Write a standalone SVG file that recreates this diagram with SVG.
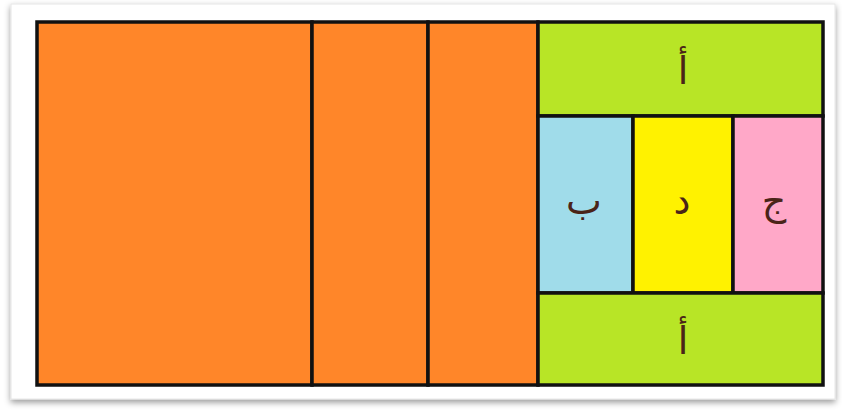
<svg xmlns="http://www.w3.org/2000/svg" width="842" height="410" viewBox="0 0 842 410">
<defs>
<filter id="sh" x="-5%" y="-5%" width="110%" height="115%">
<feDropShadow dx="0" dy="3" stdDeviation="3" flood-color="#000" flood-opacity="0.4"/>
</filter>
<style>
.cell{stroke:#111;stroke-width:3.5}
.or{fill:#FF8629}
.gr{fill:#B8E526}
.bl{fill:#A0DCEA}
.ye{fill:#FFF200}
.pk{fill:#FFA8C8}
.lb{font-family:"DejaVu Sans","Noto Sans",sans-serif;font-size:38px;fill:#4a2418;text-anchor:middle}
</style>
</defs>
<rect width="842" height="410" fill="#fff"/>
<rect x="11" y="4" width="824" height="395" fill="#fff" stroke="#e6e6e6" stroke-width="1" filter="url(#sh)"/>
<g id="orange1"><rect class="cell or" x="37" y="22" width="275" height="363"/></g>
<g id="orange2"><rect class="cell or" x="312" y="22" width="116" height="363"/></g>
<g id="orange3"><rect class="cell or" x="428" y="22" width="110" height="363"/></g>
<g id="alef-top"><rect class="cell gr" x="538" y="22" width="285" height="94"/><text class="lb" x="683" y="84">أ</text></g>
<g id="ba"><rect class="cell bl" x="538" y="116" width="95" height="177"/><text class="lb" x="584" y="214">ب</text></g>
<g id="dal"><rect class="cell ye" x="633" y="116" width="100" height="177"/><text class="lb" x="682" y="214">د</text></g>
<g id="jim"><rect class="cell pk" x="733" y="116" width="90" height="177"/><text class="lb" x="774" y="214">ج</text></g>
<g id="alef-bottom"><rect class="cell gr" x="538" y="293" width="285" height="92"/><text class="lb" x="683" y="354">أ</text></g>
<g id="connectors"></g>
</svg>
